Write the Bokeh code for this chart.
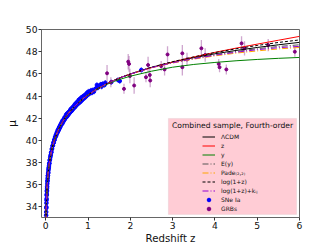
from bokeh.plotting import figure
from bokeh.models import (Range1d, FixedTicker, Legend, LegendItem, BoxAnnotation,
                          Label, ColumnDataSource)
from bokeh.embed import file_html
from bokeh.resources import INLINE

FONT = "DejaVu Sans"

# ---------------- model curves ----------------
z_grid = [0.008, 0.01, 0.015, 0.02, 0.03, 0.05, 0.07, 0.1, 0.15, 0.2, 0.3, 0.4, 0.5,
          0.6, 0.7, 0.8, 0.9, 1.0, 1.2, 1.4, 1.6, 1.8, 2.0, 2.5, 3.0, 3.5, 4.0, 4.5,
          5.0, 5.5, 6.0]
mu_lcdm = [32.69, 33.18, 34.06, 34.70, 35.59, 36.74, 37.50, 38.31, 39.28, 39.98, 40.97,
           41.69, 42.26, 42.73, 43.13, 43.50, 43.82, 44.10, 44.60, 45.02, 45.39, 45.71,
           45.99, 46.58, 47.06, 47.46, 47.81, 48.11, 48.38, 48.62, 48.84]
mu_z = [32.69, 33.18, 34.06, 34.70, 35.59, 36.74, 37.50, 38.31, 39.28, 39.98, 40.97,
        41.69, 42.26, 42.73, 43.13, 43.50, 43.82, 44.10, 44.60, 45.02, 45.39, 45.71,
        45.98, 46.56, 47.07, 47.52, 47.94, 48.32, 48.68, 49.03, 49.38]
mu_y = [32.69, 33.18, 34.06, 34.70, 35.59, 36.74, 37.50, 38.31, 39.28, 39.98, 40.97,
        41.69, 42.26, 42.73, 43.13, 43.50, 43.82, 44.10, 44.60, 44.98, 45.30, 45.56,
        45.79, 46.24, 46.60, 46.85, 47.03, 47.18, 47.30, 47.40, 47.48]
mu_Ey = [32.69, 33.18, 34.06, 34.70, 35.59, 36.74, 37.50, 38.31, 39.28, 39.98, 40.97,
         41.69, 42.26, 42.73, 43.13, 43.50, 43.82, 44.10, 44.60, 45.02, 45.39, 45.71,
         45.99, 46.58, 47.02, 47.40, 47.73, 48.02, 48.27, 48.47, 48.62]
mu_pade = [32.69, 33.18, 34.06, 34.70, 35.59, 36.74, 37.50, 38.31, 39.28, 39.98, 40.97,
           41.69, 42.26, 42.73, 43.13, 43.50, 43.82, 44.10, 44.60, 45.02, 45.39, 45.71,
           45.98, 46.55, 46.98, 47.33, 47.62, 47.87, 48.07, 48.25, 48.38]
mu_log = [32.69, 33.18, 34.06, 34.70, 35.59, 36.74, 37.50, 38.31, 39.28, 39.98, 40.97,
          41.69, 42.26, 42.73, 43.13, 43.50, 43.82, 44.10, 44.60, 45.02, 45.39, 45.71,
          45.99, 46.60, 47.10, 47.53, 47.92, 48.26, 48.56, 48.83, 49.06]
mu_logk = [32.69, 33.18, 34.06, 34.70, 35.59, 36.74, 37.50, 38.31, 39.28, 39.98, 40.97,
           41.69, 42.26, 42.73, 43.13, 43.50, 43.82, 44.10, 44.60, 45.02, 45.39, 45.71,
           45.98, 46.56, 47.00, 47.37, 47.68, 47.95, 48.18, 48.36, 48.48]

# ---------------- SNe Ia ----------------
sn_z = [0.010, 0.012, 0.014, 0.015, 0.017, 0.019, 0.021, 0.023, 0.025, 0.027, 0.029,
        0.031, 0.034, 0.037, 0.040, 0.043, 0.046, 0.050, 0.053, 0.056, 0.060, 0.064,
        0.068, 0.072, 0.077, 0.082, 0.087, 0.093, 0.10, 0.106, 0.113, 0.12, 0.127,
        0.135, 0.143, 0.15, 0.16, 0.17, 0.18, 0.19, 0.20, 0.21, 0.22, 0.23, 0.24, 0.25,
        0.26, 0.27, 0.28, 0.29, 0.30, 0.31, 0.32, 0.33, 0.34, 0.35, 0.36, 0.37, 0.38,
        0.39, 0.40, 0.41, 0.42, 0.43, 0.44, 0.45, 0.46, 0.47, 0.48, 0.49, 0.50, 0.51,
        0.52, 0.53, 0.54, 0.55, 0.56, 0.57, 0.58, 0.59, 0.60, 0.61, 0.62, 0.63, 0.64,
        0.65, 0.66, 0.67, 0.68, 0.69, 0.70, 0.71, 0.72, 0.73, 0.74, 0.75, 0.76, 0.77,
        0.78, 0.79, 0.80, 0.81, 0.82, 0.83, 0.84, 0.85, 0.86, 0.87, 0.88, 0.89, 0.90,
        0.92, 0.93, 0.95, 0.96, 0.97, 0.98, 1.00, 1.01, 1.03, 1.05, 1.07, 1.09, 1.12,
        1.14, 1.19, 1.21, 1.23, 1.26, 1.30, 1.32, 1.35, 1.39, 1.41, 1.55, 1.71, 1.75,
        2.26]
sn_mu = [33.25, 33.55, 33.90, 34.00, 34.35, 34.60, 34.75, 35.05, 35.15, 35.40, 35.50,
         35.70, 35.85, 36.10, 36.30, 36.40, 36.60, 36.80, 36.85, 37.05, 37.10, 37.30,
         37.45, 37.55, 37.70, 37.90, 37.95, 38.20, 38.25, 38.45, 38.60, 38.70, 38.90,
         38.95, 39.20, 39.25, 39.50, 39.55, 39.80, 39.80, 40.05, 40.05, 40.30, 40.30,
         40.50, 40.45, 40.70, 40.65, 40.90, 40.80, 41.05, 40.95, 41.20, 41.10, 41.35,
         41.25, 41.50, 41.45, 41.65, 41.50, 41.80, 41.65, 41.85, 41.80, 42.05, 41.90,
         42.10, 42.05, 42.30, 42.10, 42.40, 42.20, 42.45, 42.30, 42.55, 42.40, 42.60,
         42.50, 42.75, 42.60, 42.85, 42.65, 42.90, 42.75, 43.00, 42.85, 43.05, 42.95,
         43.20, 43.00, 43.30, 43.10, 43.35, 43.20, 43.45, 43.25, 43.50, 43.35, 43.65,
         43.40, 43.70, 43.45, 43.75, 43.55, 43.85, 43.60, 43.90, 43.70, 43.95, 43.75,
         44.00, 43.85, 44.10, 43.95, 44.20, 44.05, 44.30, 44.15, 44.40, 44.20, 44.35,
         44.50, 44.30, 44.55, 44.40, 44.70, 45.00, 44.75, 44.90, 45.05, 44.85, 45.10,
         45.00, 45.20, 45.25, 45.45, 45.35, 46.35]
sn_err = 0.25

# ---------------- GRBs ----------------
grb_z = [1.45, 1.54, 1.85, 1.95, 1.97, 1.99, 2.09, 2.37, 2.42, 2.46, 2.47, 2.73, 2.81,
         2.88, 3.23, 3.23, 3.34, 3.68, 3.77, 4.09, 4.11, 4.27, 4.63, 4.70, 5.26, 5.89]
grb_mu = [46.05, 45.25, 44.65, 47.10, 46.90, 45.80, 44.95, 45.70, 46.80, 45.90, 45.40,
          46.70, 46.40, 47.75, 47.85, 46.60, 47.30, 48.30, 47.70, 46.90, 46.60, 46.40,
          48.75, 48.30, 48.60, 48.00]
grb_err = [0.75, 0.45, 0.45, 0.70, 0.70, 0.65, 0.75, 0.45, 0.75, 0.60, 0.60, 0.45,
           0.55, 0.75, 0.75, 0.75, 0.60, 0.75, 0.60, 0.45, 0.45, 0.45, 0.65, 0.65,
           0.55, 0.45]

x_ticks = [0, 1, 2, 3, 4, 5, 6]
y_ticks = [34, 36, 38, 40, 42, 44, 46, 48, 50]

legend_title = "Combined sample, Fourth-order"

p = figure(width=332, height=249, output_backend="svg", toolbar_location=None,
           x_range=Range1d(-0.1, 6.0), y_range=Range1d(33.05, 50.0),
           min_border_left=41, min_border_right=33, min_border_top=29,
           min_border_bottom=32)
p.grid.visible = False
p.outline_line_color = "#666666"
p.outline_line_width = 1
p.background_fill_color = "white"
p.border_fill_color = "white"

for ax in (p.xaxis[0], p.yaxis[0]):
    ax.axis_line_color = None
    ax.major_tick_line_color = "#333333"
    ax.major_tick_out = 3
    ax.major_tick_in = 0
    ax.minor_tick_line_color = None
    ax.major_label_text_font = FONT
    ax.major_label_text_font_size = "9.2px"
    ax.major_label_text_color = "#111111"
    ax.axis_label_text_font = FONT
    ax.axis_label_text_font_style = "normal"
    ax.axis_label_text_color = "#111111"
    ax.major_label_standoff = 1
    ax.axis_label_standoff = 1

p.xaxis[0].ticker = FixedTicker(ticks=x_ticks)
p.yaxis[0].ticker = FixedTicker(ticks=y_ticks)
p.xaxis[0].axis_label = "Redshift z"
p.xaxis[0].axis_label_text_font_size = "10.2px"
p.yaxis[0].axis_label = "μ"
p.yaxis[0].axis_label_text_font_size = "11px"
p.yaxis[0].axis_label_standoff = 4

# SNe Ia
sn_src = ColumnDataSource(dict(z=sn_z, mu=sn_mu,
                               lo=[m - sn_err for m in sn_mu],
                               hi=[m + sn_err for m in sn_mu]))
p.segment(x0="z", y0="lo", x1="z", y1="hi", source=sn_src, line_color="#4040ff",
          line_alpha=0.6, line_width=1.2)
sn_r = p.scatter(x="z", y="mu", source=sn_src, size=3.6, color="blue")

# GRBs
grb_src = ColumnDataSource(dict(z=grb_z, mu=grb_mu,
                                lo=[m - e for m, e in zip(grb_mu, grb_err)],
                                hi=[m + e for m, e in zip(grb_mu, grb_err)]))
p.segment(x0="z", y0="lo", x1="z", y1="hi", source=grb_src, line_color="#a050a0",
          line_alpha=0.5, line_width=1.3)
grb_r = p.scatter(x="z", y="mu", source=grb_src, size=3.0, color="purple")

# model curves
r_lcdm = p.line(z_grid, mu_lcdm, line_color="black", line_width=1)
r_z = p.line(z_grid, mu_z, line_color="red", line_width=1)
r_y = p.line(z_grid, mu_y, line_color="green", line_width=1)
r_Ey = p.line(z_grid, mu_Ey, line_color="#555555", line_width=1, line_dash="6 2 1 2")
r_pade = p.line(z_grid, mu_pade, line_color="orange", line_width=1, line_dash="6 2 1 2")
r_log = p.line(z_grid, mu_log, line_color="black", line_width=1, line_dash="3 2")
r_logk = p.line(z_grid, mu_logk, line_color="darkviolet", line_width=1, line_dash="6 2 1 2")

# legend background box and title
box = BoxAnnotation(left=2.90, right=5.93, bottom=33.33, top=41.98,
                    fill_color="#ffccd5", fill_alpha=1.0,
                    line_color="#d8c4c8", line_width=1)
p.add_layout(box)
p.add_layout(Label(x=4.416, y=41.35, text=legend_title, text_align="center",
                   text_baseline="middle", text_font=FONT, text_font_size="7.6px",
                   text_color="#111111"))

items = [
    LegendItem(label="ΛCDM", renderers=[r_lcdm]),
    LegendItem(label="z", renderers=[r_z]),
    LegendItem(label="y", renderers=[r_y]),
    LegendItem(label="E(y)", renderers=[r_Ey]),
    LegendItem(label="Pade₍₂,₂₎", renderers=[r_pade]),
    LegendItem(label="log(1+z)", renderers=[r_log]),
    LegendItem(label="log(1+z)+kᵢⱼ", renderers=[r_logk]),
    LegendItem(label="SNe Ia", renderers=[sn_r]),
    LegendItem(label="GRBs", renderers=[grb_r]),
]
legend = Legend(items=items, location=(161, 4), padding=0, margin=0,
                background_fill_alpha=0, border_line_color=None,
                glyph_width=13, glyph_height=9, label_height=9, spacing=0,
                label_standoff=6, label_text_font=FONT, label_text_font_size="6px",
                label_text_color="#111111")
p.add_layout(legend)

open("out.html", "w").write(file_html(p, INLINE))
